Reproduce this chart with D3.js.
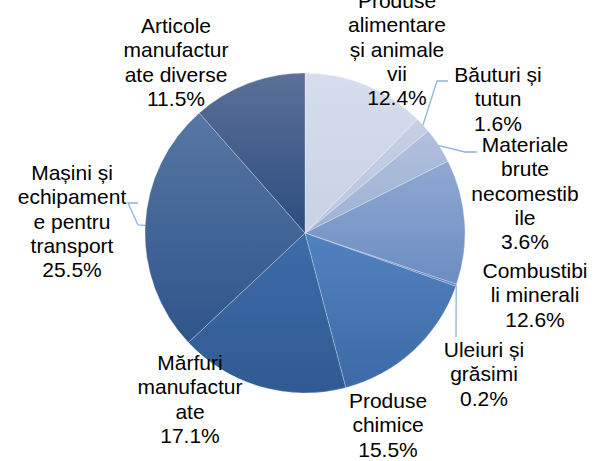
<!DOCTYPE html>
<html>
<head>
<meta charset="utf-8">
<script src="https://cdn.jsdelivr.net/npm/d3@7"></script>
<style>
  body { margin: 0; background: #fff; }
  svg { display: block; }
  text { font-family: "Liberation Sans", Arial, sans-serif; font-size: 21px; fill: #000; }
</style>
</head>
<body>
<svg id="chart" width="605" height="461"></svg>
<script>
// data
var categories = [
  "Produse alimentare și animale vii",
  "Băuturi și tutun",
  "Materiale brute necomestibile",
  "Combustibili minerali",
  "Uleiuri și grăsimi",
  "Produse chimice",
  "Mărfuri manufacturate",
  "Mașini și echipament pentru transport",
  "Articole manufacturate diverse"
];
var values = [12.4, 1.6, 3.6, 12.6, 0.2, 15.5, 17.1, 25.5, 11.5];
// how Excel wrapped the labels (the last line is the percent)
var labelLines = [
  ["Produse", "alimentare", "și animale", "vii"],
  ["Băuturi și", "tutun"],
  ["Materiale", "brute", "necomestib", "ile"],
  ["Combustibi", "li minerali"],
  ["Uleiuri și", "grăsimi"],
  ["Produse", "chimice"],
  ["Mărfuri", "manufactur", "ate"],
  ["Mașini și", "echipament", "e pentru", "transport"],
  ["Articole", "manufactur", "ate diverse"]
];

// layout / style
var W = 605, H = 461;
var CX = 305, CY = 233, R = 160;
var LINEH = 24.3;
// label block: centre x, first baseline (relative to pie centre)
var labelPos = [
  [92, -225], [193, -151], [220, -81], [230, 45], [179, 124],
  [83, 175], [-115, 137], [-233, -53], [-129, -200]
];
// leader lines: extra points after the arc edge point (relative to pie centre)
var leaders = [
  null,
  [[132, -152], [143, -152]],
  [[160, -81], [172, -81]],
  null,
  [[151, 104]],
  null, null,
  [[-167, -8], [-177, -30], [-167, -30]],
  null
];
var topColors = ["#d6dded", "#c5d0e4", "#b0bfdc", "#8fa8d2", "#6a8fc6", "#5182c0", "#3d6ca9", "#5776a3", "#5b7097"];
var botColors = ["#c8d2e5", "#b8c5de", "#9fb2d5", "#6c8dc2", "#5f86c0", "#3d6aa6", "#305a92", "#2e558b", "#2c4d7f"];

var svg = d3.select("#chart");
var defs = svg.append("defs");

var pie = d3.pie().sort(null).value(function(d) { return d; });
var arc = d3.arc().innerRadius(0).outerRadius(R);
var arcs = pie(values);

arcs.forEach(function(a, i) {
  var g = defs.append("linearGradient")
    .attr("id", "grad" + i)
    .attr("x1", 0).attr("y1", 0).attr("x2", 0).attr("y2", 1);
  g.append("stop").attr("offset", "0%").attr("stop-color", topColors[i]);
  g.append("stop").attr("offset", "100%").attr("stop-color", botColors[i]);
});

var gPie = svg.append("g").attr("transform", "translate(" + CX + "," + CY + ")");

gPie.selectAll("path.slice")
  .data(arcs)
  .enter().append("path")
  .attr("class", "slice")
  .attr("d", arc)
  .attr("fill", function(d, i) { return "url(#grad" + i + ")"; })
  .attr("stroke", "#ffffff")
  .attr("stroke-opacity", 0.35)
  .attr("stroke-width", 0.75);

// leader lines
arcs.forEach(function(a, i) {
  if (!leaders[i]) return;
  var mid = (a.startAngle + a.endAngle) / 2;
  var pts = [[R * Math.sin(mid), -R * Math.cos(mid)]].concat(leaders[i]);
  gPie.append("path")
    .attr("d", d3.line()(pts))
    .attr("fill", "none")
    .attr("stroke", "#8db3e2")
    .attr("stroke-width", 1.3);
});

// labels
var gLab = gPie.append("g").attr("class", "labels");
arcs.forEach(function(a, i) {
  var lines = labelLines[i].concat([values[i].toFixed(1) + "%"]);
  var t = gLab.append("text")
    .attr("text-anchor", "middle")
    .attr("x", labelPos[i][0])
    .attr("y", labelPos[i][1]);
  lines.forEach(function(s, k) {
    t.append("tspan")
      .attr("x", labelPos[i][0])
      .attr("y", labelPos[i][1] + k * LINEH)
      .text(s);
  });
});
</script>
</body>
</html>
